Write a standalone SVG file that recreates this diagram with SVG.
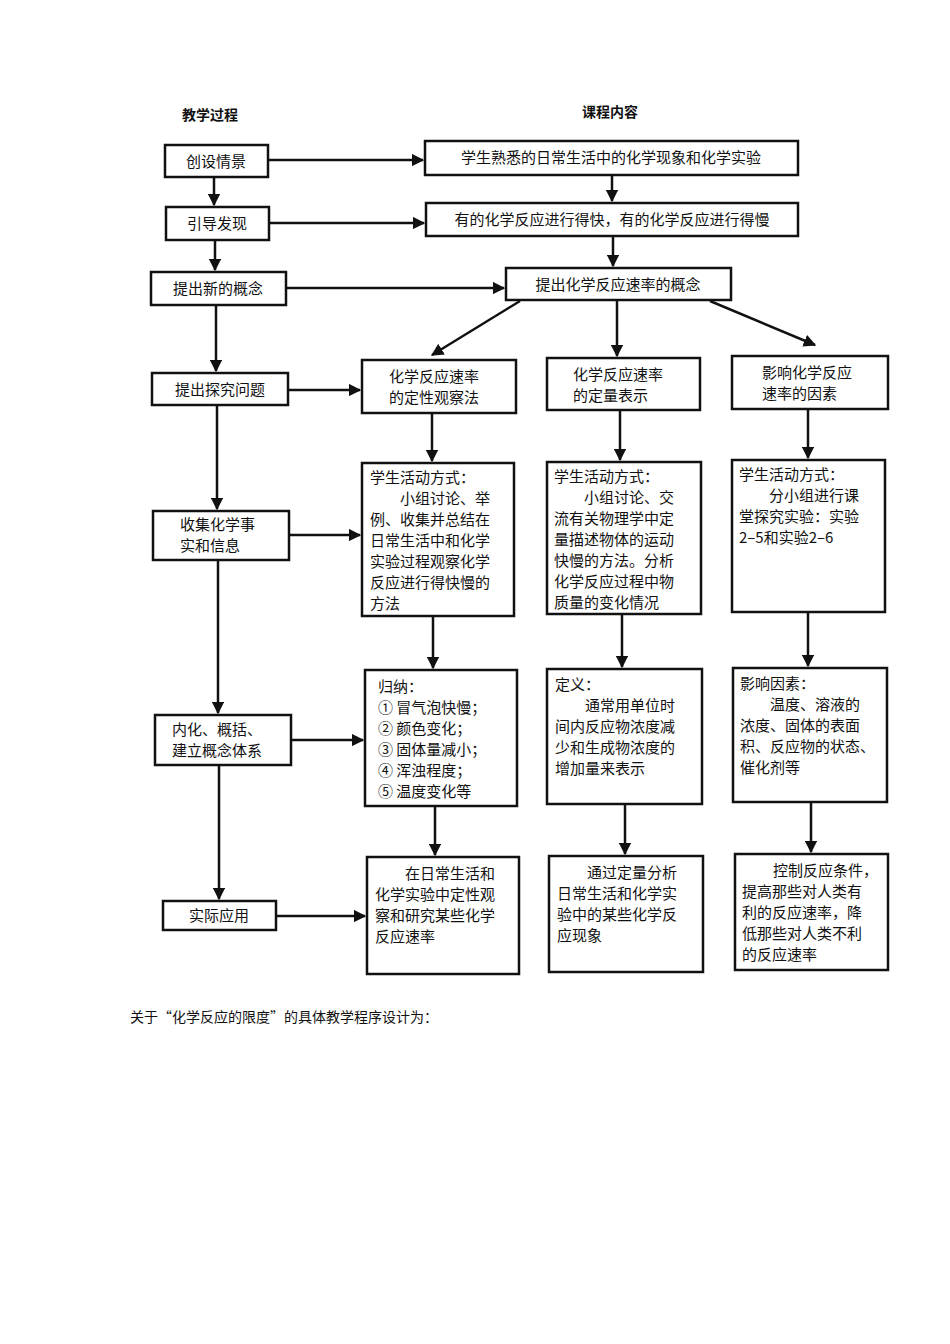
<svg xmlns="http://www.w3.org/2000/svg" width="950" height="1344" viewBox="0 0 950 1344">
<style>
rect{fill:#fff;stroke:#111;stroke-width:2.5}
text{font-family:"Noto Sans CJK SC",sans-serif;font-size:15px;fill:#111}
.c{text-anchor:middle}
.h{font-weight:bold;font-size:14px}
#conn line{stroke:#111;stroke-width:2.5;marker-end:url(#a)}
</style>
<defs><marker id="a" viewBox="0 0 10 10" refX="9" refY="5" markerWidth="5" markerHeight="5" orient="auto"><path d="M0,0L10,5L0,10z" fill="#111"/></marker></defs>
<rect width="950" height="1344" style="fill:#fff;stroke:none"/>
<text class="c h" x="210" y="120">教学过程</text>
<text class="c h" x="610" y="117">课程内容</text>
<g id="conn">
<line x1="268" y1="160" x2="423" y2="160"/>
<line x1="269" y1="223" x2="424" y2="223"/>
<line x1="286" y1="288" x2="504" y2="288"/>
<line x1="288" y1="390" x2="360" y2="390"/>
<line x1="289" y1="535" x2="360" y2="535"/>
<line x1="291" y1="740" x2="363" y2="740"/>
<line x1="276" y1="916" x2="365" y2="916"/>
<line x1="214" y1="177" x2="214" y2="205"/>
<line x1="215" y1="240" x2="215" y2="270"/>
<line x1="216" y1="305" x2="216" y2="371"/>
<line x1="217" y1="405" x2="217" y2="509"/>
<line x1="218" y1="560" x2="218" y2="713"/>
<line x1="219" y1="765" x2="219" y2="899"/>
<line x1="612" y1="175" x2="612" y2="201"/>
<line x1="613" y1="236" x2="613" y2="266"/>
<line x1="520" y1="301" x2="432" y2="355"/>
<line x1="617" y1="300" x2="617" y2="356"/>
<line x1="710" y1="301" x2="815" y2="345"/>
<line x1="432" y1="413" x2="432" y2="461"/>
<line x1="620" y1="410" x2="620" y2="460"/>
<line x1="808" y1="409" x2="808" y2="458"/>
<line x1="433" y1="616" x2="433" y2="668"/>
<line x1="622" y1="614" x2="622" y2="667"/>
<line x1="808" y1="612" x2="808" y2="666"/>
<line x1="435" y1="806" x2="435" y2="855"/>
<line x1="625" y1="804" x2="625" y2="854"/>
<line x1="811" y1="802" x2="811" y2="852"/>
</g>
<g id="n1"><rect x="165" y="145" width="103" height="32"/><text class="c" x="216" y="167">创设情景</text></g>
<g id="n2"><rect x="166" y="207" width="103" height="33"/><text class="c" x="217" y="229">引导发现</text></g>
<g id="n3"><rect x="151" y="272" width="135" height="33"/><text class="c" x="218" y="294">提出新的概念</text></g>
<g id="n4"><rect x="152" y="373" width="136" height="32"/><text class="c" x="220" y="395">提出探究问题</text></g>
<g id="n5"><rect x="153" y="511" width="136" height="49"/><text x="180" y="530">收集化学事</text><text x="180" y="551">实和信息</text></g>
<g id="n6"><rect x="155" y="715" width="136" height="50"/><text x="172" y="735">内化、概括、</text><text x="172" y="756">建立概念体系</text></g>
<g id="n7"><rect x="163" y="901" width="113" height="29"/><text class="c" x="219" y="921">实际应用</text></g>
<g id="r1"><rect x="425" y="141" width="373" height="34"/><text class="c" x="611" y="163">学生熟悉的日常生活中的化学现象和化学实验</text></g>
<g id="r2"><rect x="426" y="203" width="372" height="33"/><text class="c" x="612" y="225">有的化学反应进行得快，有的化学反应进行得慢</text></g>
<g id="r3"><rect x="506" y="268" width="225" height="32"/><text class="c" x="618" y="290">提出化学反应速率的概念</text></g>
<g id="a1"><rect x="362" y="360" width="154" height="53"/><text x="389" y="382">化学反应速率</text><text x="389" y="403">的定性观察法</text></g>
<g id="b1"><rect x="547" y="358" width="153" height="52"/><text x="573" y="380">化学反应速率</text><text x="573" y="401">的定量表示</text></g>
<g id="c1"><rect x="732" y="356" width="156" height="53"/><text x="762" y="378">影响化学反应</text><text x="762" y="399">速率的因素</text></g>
<g id="a2"><rect x="362" y="463" width="152" height="153"/><text x="370" y="483">学生活动方式：</text><text x="400" y="504">小组讨论、举</text><text x="370" y="525">例、收集并总结在</text><text x="370" y="546">日常生活中和化学</text><text x="370" y="567">实验过程观察化学</text><text x="370" y="588">反应进行得快慢的</text><text x="370" y="609">方法</text></g>
<g id="b2"><rect x="547" y="462" width="154" height="152"/><text x="554" y="482">学生活动方式：</text><text x="584" y="503">小组讨论、交</text><text x="554" y="524">流有关物理学中定</text><text x="554" y="545">量描述物体的运动</text><text x="554" y="566">快慢的方法。分析</text><text x="554" y="587">化学反应过程中物</text><text x="554" y="608">质量的变化情况</text></g>
<g id="c2"><rect x="732" y="460" width="153" height="152"/><text x="739" y="480">学生活动方式：</text><text x="769" y="501">分小组进行课</text><text x="739" y="522">堂探究实验：实验</text><text x="739" y="543">2–5和实验2–6</text></g>
<g id="a3"><rect x="365" y="670" width="152" height="136"/><text x="378" y="692">归纳：</text><text x="378" y="713">① 冒气泡快慢；</text><text x="378" y="734">② 颜色变化；</text><text x="378" y="755">③ 固体量减小；</text><text x="378" y="776">④ 浑浊程度；</text><text x="378" y="797">⑤ 温度变化等</text></g>
<g id="b3"><rect x="547" y="669" width="155" height="135"/><text x="555" y="690">定义：</text><text x="585" y="711">通常用单位时</text><text x="555" y="732">间内反应物浓度减</text><text x="555" y="753">少和生成物浓度的</text><text x="555" y="774">增加量来表示</text></g>
<g id="c3"><rect x="733" y="668" width="154" height="134"/><text x="740" y="689">影响因素：</text><text x="770" y="710">温度、溶液的</text><text x="740" y="731">浓度、固体的表面</text><text x="740" y="752">积、反应物的状态、</text><text x="740" y="773">催化剂等</text></g>
<g id="a4"><rect x="367" y="857" width="152" height="117"/><text x="405" y="879">在日常生活和</text><text x="375" y="900">化学实验中定性观</text><text x="375" y="921">察和研究某些化学</text><text x="375" y="942">反应速率</text></g>
<g id="b4"><rect x="549" y="856" width="154" height="116"/><text x="587" y="878">通过定量分析</text><text x="557" y="899">日常生活和化学实</text><text x="557" y="920">验中的某些化学反</text><text x="557" y="941">应现象</text></g>
<g id="c4"><rect x="735" y="854" width="153" height="116"/><text x="773" y="876">控制反应条件，</text><text x="742" y="897">提高那些对人类有</text><text x="742" y="918">利的反应速率，降</text><text x="742" y="939">低那些对人类不利</text><text x="742" y="960">的反应速率</text></g>
<text x="130" y="1022" style="font-size:14px">关于“化学反应的限度”的具体教学程序设计为：</text>
</svg>
